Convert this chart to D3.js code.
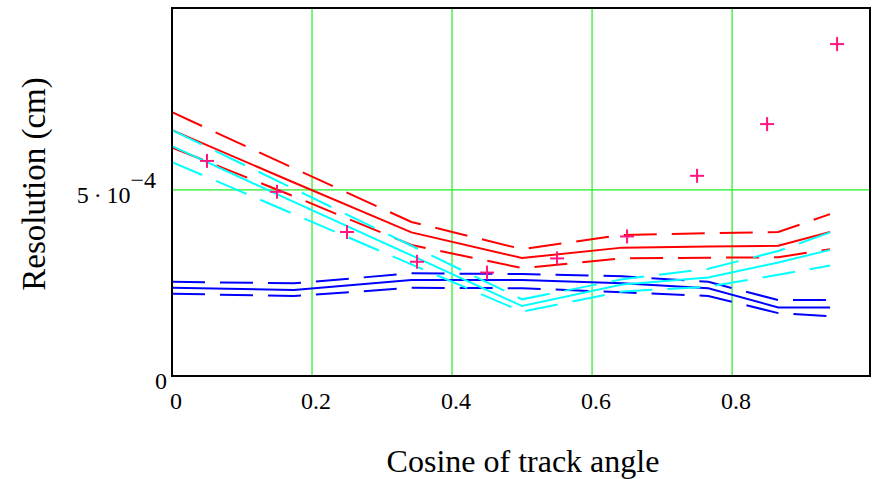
<!DOCTYPE html>
<html>
<head>
<meta charset="utf-8">
<script src="https://cdn.jsdelivr.net/npm/d3@7"></script>
<style>
  body { margin: 0; background: #fff; }
  text { font-family: "Liberation Serif", "Times New Roman", serif; fill: #000; }
</style>
</head>
<body>
<div id="chart"></div>
<script>
// cosine of track angle (90..20 deg in 10 deg steps)
const cosAngle = [0, 0.174, 0.342, 0.5, 0.643, 0.766, 0.866, 0.94];

// resolution, in units of 1e-4 cm
const redMid  = [6.61, 5.20, 3.86, 3.17, 3.45, 3.48, 3.50, 3.87];
const redHi   = [7.09, 5.58, 4.14, 3.41, 3.79, 3.84, 3.87, 4.35];
const redLo   = [6.14, 4.83, 3.52, 2.90, 3.16, 3.18, 3.19, 3.41];
const cyanMid = [6.18, 4.68, 3.24, 1.88, 2.46, 2.65, 3.05, 3.39];
const cyanHi  = [6.61, 5.03, 3.50, 2.06, 2.60, 2.88, 3.36, 3.86];
const cyanLo  = [5.75, 4.35, 3.00, 1.73, 2.27, 2.40, 2.72, 2.97];
const blueMid = [2.37, 2.31, 2.58, 2.58, 2.49, 2.36, 1.84, 1.84];
const blueHi  = [2.53, 2.49, 2.76, 2.74, 2.68, 2.53, 2.04, 2.04];
const blueLo  = [2.21, 2.15, 2.37, 2.36, 2.25, 2.15, 1.69, 1.61];

// measured points
const binCentres = [0.05, 0.15, 0.25, 0.35, 0.45, 0.55, 0.65, 0.75, 0.85, 0.95];
const measured   = [5.78, 4.95, 3.87, 3.07, 2.78, 3.16, 3.75, 5.38, 6.77, 8.92];

const xTicks = [0, 0.2, 0.4, 0.6, 0.8];
const yTicks = [0, 5];

const width = 872, height = 479;
const M = { left: 172, top: 8, right: 870, bottom: 376 };

const svg = d3.select('#chart').append('svg')
    .attr('width', width).attr('height', height);

const x = d3.scaleLinear().domain([0, 0.997]).range([M.left, M.right]);
const y = d3.scaleLinear().domain([0, 9.89]).range([M.bottom, M.top]);

// grid
svg.append('g').selectAll('line').data(xTicks.filter(d => d > 0)).enter().append('line')
    .attr('x1', d => x(d)).attr('x2', d => x(d)).attr('y1', M.top).attr('y2', M.bottom)
    .attr('stroke', '#22ee22').attr('stroke-width', 1.2);
svg.append('g').selectAll('line').data(yTicks.filter(d => d > 0)).enter().append('line')
    .attr('x1', M.left).attr('x2', M.right).attr('y1', d => y(d)).attr('y2', d => y(d))
    .attr('stroke', '#22ee22').attr('stroke-width', 1.2);

const line = d3.line().x((d, i) => x(cosAngle[i])).y(d => y(d));

const traces = [
    { v: redMid, c: '#ff0000', dash: null },
    { v: redHi, c: '#ff0000', dash: '33,15' },
    { v: redLo, c: '#ff0000', dash: '33,15' },
    { v: blueMid, c: '#0000ff', dash: null },
    { v: blueHi, c: '#0000ff', dash: '33,15' },
    { v: blueLo, c: '#0000ff', dash: '33,15' },
    { v: cyanMid, c: '#00ffff', dash: null },
    { v: cyanHi, c: '#00ffff', dash: '33,15' },
    { v: cyanLo, c: '#00ffff', dash: '33,15' }
];

svg.append('g').selectAll('path').data(traces).enter().append('path')
    .attr('d', d => line(d.v))
    .attr('fill', 'none')
    .attr('stroke', d => d.c)
    .attr('stroke-width', 2)
    .attr('stroke-dasharray', d => d.dash);

// + markers
const pts = binCentres.map((c, i) => ({ cx: x(c), cy: y(measured[i]) }));
const mk = svg.append('g').attr('stroke', '#ff1480').attr('stroke-width', 2);
mk.selectAll('line.h').data(pts).enter().append('line').attr('class', 'h')
    .attr('x1', d => d.cx - 7).attr('x2', d => d.cx + 7).attr('y1', d => d.cy).attr('y2', d => d.cy);
mk.selectAll('line.v').data(pts).enter().append('line').attr('class', 'v')
    .attr('x1', d => d.cx).attr('x2', d => d.cx).attr('y1', d => d.cy - 7).attr('y2', d => d.cy + 7);

// frame
svg.append('rect')
    .attr('x', M.left).attr('y', M.top)
    .attr('width', M.right - M.left).attr('height', M.bottom - M.top)
    .attr('fill', 'none').attr('stroke', '#000').attr('stroke-width', 2);

// x tick labels
svg.append('g').selectAll('text').data(xTicks).enter().append('text')
    .attr('x', d => x(d) + 4).attr('y', 409)
    .attr('text-anchor', 'middle').attr('font-size', '24px')
    .text(d => d === 0 ? '0' : d3.format('.1f')(d));

// y tick labels
svg.append('text').attr('x', 167).attr('y', 389)
    .attr('text-anchor', 'end').attr('font-size', '24px').text('0');
const yl = svg.append('text').attr('x', 156).attr('y', 203)
    .attr('text-anchor', 'end').attr('font-size', '24px');
yl.append('tspan').text('5\u2009\u00b7\u200910');
yl.append('tspan').attr('dy', -15).text('\u2212' + '4');

// axis titles
svg.append('text').attr('x', (M.left + M.right) / 2 + 2).attr('y', 472)
    .attr('text-anchor', 'middle').attr('font-size', '32px')
    .text('Cosine of track angle');
svg.append('text').attr('transform', 'translate(45,184) rotate(-90)')
    .attr('text-anchor', 'middle').attr('font-size', '33px')
    .text('Resolution (cm)');
</script>
</body>
</html>
